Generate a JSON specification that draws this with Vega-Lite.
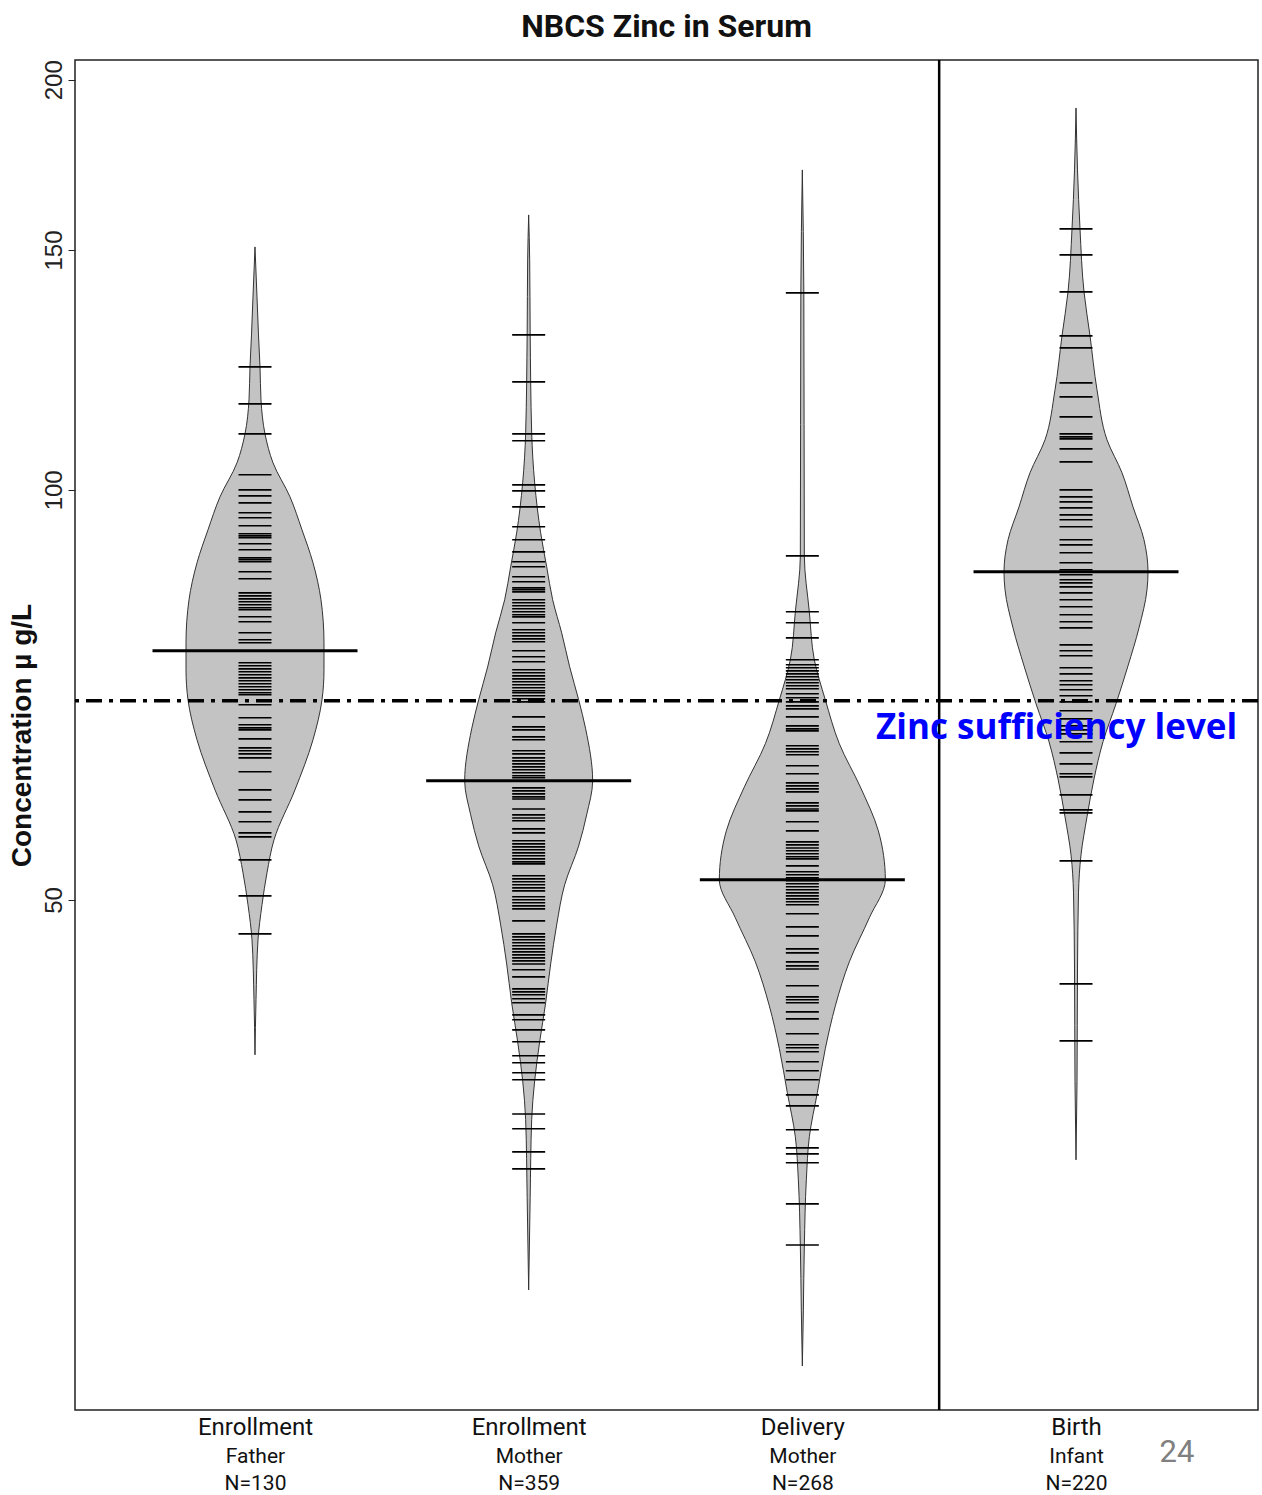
{
  "$schema": "https://vega.github.io/schema/vega-lite/v6.json",
  "width": 1183,
  "height": 1350,
  "autosize": {"type": "none"},
  "padding": {"left": 75, "top": 60, "right": 4, "bottom": 85},
  "background": "white",
  "title": {"text": "NBCS Zinc in Serum", "font": "Roboto", "fontSize": 32, "fontWeight": "bold", "color": "#111", "anchor": "middle", "offset": 15},
  "config": {
    "view": {"stroke": "#222", "strokeWidth": 1.5},
    "axis": {"grid": false},
    "axisY": {"tickSize": 7, "tickWidth": 1, "tickColor": "#222", "labelAngle": -90, "labelFont": "Liberation Sans", "labelFontSize": 24, "labelPadding": 2, "labelColor": "#222", "domain": false, "grid": false, "titleFont": "Liberation Sans", "titleFontSize": 28, "titleFontWeight": "bold", "titleColor": "#111", "titlePadding": 6}
  },
  "datasets": {
    "violin": [
      {"group": "Father", "pos": 1, "conc": 150.78, "density": 0},
      {"group": "Father", "pos": 1, "conc": 138.56, "density": 0.0073},
      {"group": "Father", "pos": 1, "conc": 129.94, "density": 0.0128},
      {"group": "Father", "pos": 1, "conc": 123.10, "density": 0.0183},
      {"group": "Father", "pos": 1, "conc": 116.43, "density": 0.0219},
      {"group": "Father", "pos": 1, "conc": 109.93, "density": 0.0365},
      {"group": "Father", "pos": 1, "conc": 104.67, "density": 0.0658},
      {"group": "Father", "pos": 1, "conc": 98.82, "density": 0.1279},
      {"group": "Father", "pos": 1, "conc": 93.47, "density": 0.1717},
      {"group": "Father", "pos": 1, "conc": 88.40, "density": 0.2119},
      {"group": "Father", "pos": 1, "conc": 83.04, "density": 0.2411},
      {"group": "Father", "pos": 1, "conc": 77.22, "density": 0.2521},
      {"group": "Father", "pos": 1, "conc": 73.77, "density": 0.2521},
      {"group": "Father", "pos": 1, "conc": 70.12, "density": 0.2448},
      {"group": "Father", "pos": 1, "conc": 65.54, "density": 0.2119},
      {"group": "Father", "pos": 1, "conc": 60.22, "density": 0.1461},
      {"group": "Father", "pos": 1, "conc": 55.34, "density": 0.0694},
      {"group": "Father", "pos": 1, "conc": 52.34, "density": 0.0438},
      {"group": "Father", "pos": 1, "conc": 49.59, "density": 0.0256},
      {"group": "Father", "pos": 1, "conc": 46.74, "density": 0.011},
      {"group": "Father", "pos": 1, "conc": 42.23, "density": 0.0037},
      {"group": "Father", "pos": 1, "conc": 38.48, "density": 0},
      {"group": "MotherE", "pos": 2, "conc": 159.16, "density": 0},
      {"group": "MotherE", "pos": 2, "conc": 147.51, "density": 0.0037},
      {"group": "MotherE", "pos": 2, "conc": 130.39, "density": 0.0055},
      {"group": "MotherE", "pos": 2, "conc": 110.12, "density": 0.011},
      {"group": "MotherE", "pos": 2, "conc": 101.19, "density": 0.0219},
      {"group": "MotherE", "pos": 2, "conc": 93.00, "density": 0.0438},
      {"group": "MotherE", "pos": 2, "conc": 87.80, "density": 0.0658},
      {"group": "MotherE", "pos": 2, "conc": 83.04, "density": 0.0877},
      {"group": "MotherE", "pos": 2, "conc": 78.53, "density": 0.1206},
      {"group": "MotherE", "pos": 2, "conc": 74.14, "density": 0.1498},
      {"group": "MotherE", "pos": 2, "conc": 70.12, "density": 0.1827},
      {"group": "MotherE", "pos": 2, "conc": 66.76, "density": 0.2083},
      {"group": "MotherE", "pos": 2, "conc": 61.15, "density": 0.2338},
      {"group": "MotherE", "pos": 2, "conc": 57.73, "density": 0.2119},
      {"group": "MotherE", "pos": 2, "conc": 54.78, "density": 0.1827},
      {"group": "MotherE", "pos": 2, "conc": 51.29, "density": 0.1315},
      {"group": "MotherE", "pos": 2, "conc": 47.93, "density": 0.1023},
      {"group": "MotherE", "pos": 2, "conc": 44.87, "density": 0.0804},
      {"group": "MotherE", "pos": 2, "conc": 42.02, "density": 0.0621},
      {"group": "MotherE", "pos": 2, "conc": 39.34, "density": 0.0402},
      {"group": "MotherE", "pos": 2, "conc": 36.83, "density": 0.0219},
      {"group": "MotherE", "pos": 2, "conc": 34.48, "density": 0.011},
      {"group": "MotherE", "pos": 2, "conc": 30.22, "density": 0.0055},
      {"group": "MotherE", "pos": 2, "conc": 25.86, "density": 0},
      {"group": "MotherD", "pos": 3, "conc": 171.74, "density": 0},
      {"group": "MotherD", "pos": 3, "conc": 139.51, "density": 0.0055},
      {"group": "MotherD", "pos": 3, "conc": 89.44, "density": 0.0073},
      {"group": "MotherD", "pos": 3, "conc": 81.37, "density": 0.0256},
      {"group": "MotherD", "pos": 3, "conc": 75.03, "density": 0.0438},
      {"group": "MotherD", "pos": 3, "conc": 70.12, "density": 0.084},
      {"group": "MotherD", "pos": 3, "conc": 65.10, "density": 0.1352},
      {"group": "MotherD", "pos": 3, "conc": 60.52, "density": 0.2119},
      {"group": "MotherD", "pos": 3, "conc": 56.19, "density": 0.2777},
      {"group": "MotherD", "pos": 3, "conc": 51.73, "density": 0.3033},
      {"group": "MotherD", "pos": 3, "conc": 48.51, "density": 0.2448},
      {"group": "MotherD", "pos": 3, "conc": 45.03, "density": 0.1717},
      {"group": "MotherD", "pos": 3, "conc": 41.80, "density": 0.1206},
      {"group": "MotherD", "pos": 3, "conc": 38.88, "density": 0.084},
      {"group": "MotherD", "pos": 3, "conc": 36.09, "density": 0.0548},
      {"group": "MotherD", "pos": 3, "conc": 33.50, "density": 0.0256},
      {"group": "MotherD", "pos": 3, "conc": 31.15, "density": 0.0146},
      {"group": "MotherD", "pos": 3, "conc": 27.86, "density": 0.0073},
      {"group": "MotherD", "pos": 3, "conc": 24.96, "density": 0.0037},
      {"group": "MotherD", "pos": 3, "conc": 22.74, "density": 0},
      {"group": "Infant", "pos": 4, "conc": 190.69, "density": 0},
      {"group": "Infant", "pos": 4, "conc": 171.74, "density": 0.0055},
      {"group": "Infant", "pos": 4, "conc": 155.44, "density": 0.0146},
      {"group": "Infant", "pos": 4, "conc": 139.75, "density": 0.0292},
      {"group": "Infant", "pos": 4, "conc": 129.72, "density": 0.0512},
      {"group": "Infant", "pos": 4, "conc": 118.42, "density": 0.0767},
      {"group": "Infant", "pos": 4, "conc": 108.82, "density": 0.1133},
      {"group": "Infant", "pos": 4, "conc": 102.92, "density": 0.1681},
      {"group": "Infant", "pos": 4, "conc": 97.16, "density": 0.2083},
      {"group": "Infant", "pos": 4, "conc": 91.90, "density": 0.2484},
      {"group": "Infant", "pos": 4, "conc": 87.06, "density": 0.2631},
      {"group": "Infant", "pos": 4, "conc": 84.45, "density": 0.2594},
      {"group": "Infant", "pos": 4, "conc": 79.19, "density": 0.2302},
      {"group": "Infant", "pos": 4, "conc": 74.27, "density": 0.19},
      {"group": "Infant", "pos": 4, "conc": 69.65, "density": 0.1461},
      {"group": "Infant", "pos": 4, "conc": 65.32, "density": 0.0986},
      {"group": "Infant", "pos": 4, "conc": 61.35, "density": 0.0658},
      {"group": "Infant", "pos": 4, "conc": 57.53, "density": 0.0402},
      {"group": "Infant", "pos": 4, "conc": 53.96, "density": 0.0183},
      {"group": "Infant", "pos": 4, "conc": 50.60, "density": 0.0091},
      {"group": "Infant", "pos": 4, "conc": 44.49, "density": 0.0055},
      {"group": "Infant", "pos": 4, "conc": 36.77, "density": 0.0037},
      {"group": "Infant", "pos": 4, "conc": 32.22, "density": 0}
    ],
    "beans": [
      {"pos": 1, "conc": 123.10}, {"pos": 1, "conc": 115.64}, {"pos": 1, "conc": 109.93}, {"pos": 1, "conc": 102.57}, {"pos": 1, "conc": 100.0}, {"pos": 1, "conc": 98.98}, {"pos": 1, "conc": 97.82}, {"pos": 1, "conc": 96.19}, {"pos": 1, "conc": 95.38}, {"pos": 1, "conc": 94.10}, {"pos": 1, "conc": 92.84}, {"pos": 1, "conc": 92.52}, {"pos": 1, "conc": 92.21}, {"pos": 1, "conc": 91.28}, {"pos": 1, "conc": 90.36}, {"pos": 1, "conc": 89.14}, {"pos": 1, "conc": 88.85}, {"pos": 1, "conc": 88.55}, {"pos": 1, "conc": 87.06}, {"pos": 1, "conc": 86.04}, {"pos": 1, "conc": 84.02}, {"pos": 1, "conc": 83.59}, {"pos": 1, "conc": 83.17}, {"pos": 1, "conc": 82.76}, {"pos": 1, "conc": 82.34}, {"pos": 1, "conc": 81.92}, {"pos": 1, "conc": 81.65}, {"pos": 1, "conc": 80.69}, {"pos": 1, "conc": 80.01}, {"pos": 1, "conc": 78.53}, {"pos": 1, "conc": 77.61}, {"pos": 1, "conc": 77.22}, {"pos": 1, "conc": 74.65}, {"pos": 1, "conc": 74.27}, {"pos": 1, "conc": 73.89}, {"pos": 1, "conc": 73.52}, {"pos": 1, "conc": 73.15}, {"pos": 1, "conc": 72.77}, {"pos": 1, "conc": 72.42}, {"pos": 1, "conc": 72.05}, {"pos": 1, "conc": 71.68}, {"pos": 1, "conc": 71.32}, {"pos": 1, "conc": 70.96}, {"pos": 1, "conc": 70.72}, {"pos": 1, "conc": 69.53}, {"pos": 1, "conc": 68.02}, {"pos": 1, "conc": 67.22}, {"pos": 1, "conc": 66.87}, {"pos": 1, "conc": 66.65}, {"pos": 1, "conc": 65.64}, {"pos": 1, "conc": 64.65}, {"pos": 1, "conc": 64.33}, {"pos": 1, "conc": 64.00}, {"pos": 1, "conc": 63.57}, {"pos": 1, "conc": 62.09}, {"pos": 1, "conc": 60.22}, {"pos": 1, "conc": 59.21}, {"pos": 1, "conc": 58.02}, {"pos": 1, "conc": 57.06}, {"pos": 1, "conc": 56.00}, {"pos": 1, "conc": 55.62}, {"pos": 1, "conc": 53.50}, {"pos": 1, "conc": 50.34}, {"pos": 1, "conc": 47.21},
      {"pos": 2, "conc": 129.94}, {"pos": 2, "conc": 120.02}, {"pos": 2, "conc": 109.93}, {"pos": 2, "conc": 108.64}, {"pos": 2, "conc": 100.85}, {"pos": 2, "conc": 99.83}, {"pos": 2, "conc": 97.16}, {"pos": 2, "conc": 93.94}, {"pos": 2, "conc": 91.90}, {"pos": 2, "conc": 90.05}, {"pos": 2, "conc": 88.55}, {"pos": 2, "conc": 87.80}, {"pos": 2, "conc": 86.33}, {"pos": 2, "conc": 85.60}, {"pos": 2, "conc": 84.73}, {"pos": 2, "conc": 84.45}, {"pos": 2, "conc": 84.16}, {"pos": 2, "conc": 83.04}, {"pos": 2, "conc": 82.62}, {"pos": 2, "conc": 82.20}, {"pos": 2, "conc": 81.78}, {"pos": 2, "conc": 81.37}, {"pos": 2, "conc": 80.96}, {"pos": 2, "conc": 80.68}, {"pos": 2, "conc": 79.87}, {"pos": 2, "conc": 78.93}, {"pos": 2, "conc": 78.53}, {"pos": 2, "conc": 78.13}, {"pos": 2, "conc": 77.73}, {"pos": 2, "conc": 77.35}, {"pos": 2, "conc": 76.18}, {"pos": 2, "conc": 75.41}, {"pos": 2, "conc": 74.78}, {"pos": 2, "conc": 73.77}, {"pos": 2, "conc": 73.40}, {"pos": 2, "conc": 73.02}, {"pos": 2, "conc": 72.65}, {"pos": 2, "conc": 72.29}, {"pos": 2, "conc": 71.93}, {"pos": 2, "conc": 71.56}, {"pos": 2, "conc": 71.20}, {"pos": 2, "conc": 70.96}, {"pos": 2, "conc": 70.60}, {"pos": 2, "conc": 70.24}, {"pos": 2, "conc": 69.88}, {"pos": 2, "conc": 68.13}, {"pos": 2, "conc": 66.99}, {"pos": 2, "conc": 66.65}, {"pos": 2, "conc": 65.86}, {"pos": 2, "conc": 65.54}, {"pos": 2, "conc": 64.33}, {"pos": 2, "conc": 64.00}, {"pos": 2, "conc": 63.57}, {"pos": 2, "conc": 63.25}, {"pos": 2, "conc": 62.93}, {"pos": 2, "conc": 62.61}, {"pos": 2, "conc": 62.30}, {"pos": 2, "conc": 61.98}, {"pos": 2, "conc": 61.67}, {"pos": 2, "conc": 61.46}, {"pos": 2, "conc": 60.42}, {"pos": 2, "conc": 60.12}, {"pos": 2, "conc": 59.81}, {"pos": 2, "conc": 59.51}, {"pos": 2, "conc": 59.30}, {"pos": 2, "conc": 58.31}, {"pos": 2, "conc": 57.73}, {"pos": 2, "conc": 57.43}, {"pos": 2, "conc": 57.15}, {"pos": 2, "conc": 56.38}, {"pos": 2, "conc": 56.00}, {"pos": 2, "conc": 55.25}, {"pos": 2, "conc": 54.97}, {"pos": 2, "conc": 54.69}, {"pos": 2, "conc": 54.42}, {"pos": 2, "conc": 54.14}, {"pos": 2, "conc": 53.87}, {"pos": 2, "conc": 53.59}, {"pos": 2, "conc": 53.32}, {"pos": 2, "conc": 53.14}, {"pos": 2, "conc": 52.08}, {"pos": 2, "conc": 51.81}, {"pos": 2, "conc": 51.56}, {"pos": 2, "conc": 51.29}, {"pos": 2, "conc": 51.03}, {"pos": 2, "conc": 50.77}, {"pos": 2, "conc": 50.26}, {"pos": 2, "conc": 50.01}, {"pos": 2, "conc": 49.76}, {"pos": 2, "conc": 49.50}, {"pos": 2, "conc": 49.25}, {"pos": 2, "conc": 48.26}, {"pos": 2, "conc": 47.21}, {"pos": 2, "conc": 46.97}, {"pos": 2, "conc": 46.74}, {"pos": 2, "conc": 46.50}, {"pos": 2, "conc": 46.27}, {"pos": 2, "conc": 46.03}, {"pos": 2, "conc": 45.79}, {"pos": 2, "conc": 45.56}, {"pos": 2, "conc": 45.33}, {"pos": 2, "conc": 45.10}, {"pos": 2, "conc": 44.87}, {"pos": 2, "conc": 44.43}, {"pos": 2, "conc": 43.90}, {"pos": 2, "conc": 43.02}, {"pos": 2, "conc": 42.80}, {"pos": 2, "conc": 42.59}, {"pos": 2, "conc": 42.30}, {"pos": 2, "conc": 42.02}, {"pos": 2, "conc": 41.17}, {"pos": 2, "conc": 40.83}, {"pos": 2, "conc": 40.14}, {"pos": 2, "conc": 39.34}, {"pos": 2, "conc": 38.42}, {"pos": 2, "conc": 37.97}, {"pos": 2, "conc": 37.33}, {"pos": 2, "conc": 36.89}, {"pos": 2, "conc": 34.82}, {"pos": 2, "conc": 33.96}, {"pos": 2, "conc": 32.66}, {"pos": 2, "conc": 31.73},
      {"pos": 3, "conc": 139.51}, {"pos": 3, "conc": 89.44}, {"pos": 3, "conc": 81.37}, {"pos": 3, "conc": 79.87}, {"pos": 3, "conc": 77.86}, {"pos": 3, "conc": 75.03}, {"pos": 3, "conc": 74.40}, {"pos": 3, "conc": 74.02}, {"pos": 3, "conc": 73.64}, {"pos": 3, "conc": 73.27}, {"pos": 3, "conc": 72.90}, {"pos": 3, "conc": 72.54}, {"pos": 3, "conc": 72.17}, {"pos": 3, "conc": 71.80}, {"pos": 3, "conc": 71.44}, {"pos": 3, "conc": 70.84}, {"pos": 3, "conc": 70.36}, {"pos": 3, "conc": 69.88}, {"pos": 3, "conc": 69.41}, {"pos": 3, "conc": 69.05}, {"pos": 3, "conc": 68.13}, {"pos": 3, "conc": 67.10}, {"pos": 3, "conc": 66.76}, {"pos": 3, "conc": 66.54}, {"pos": 3, "conc": 64.88}, {"pos": 3, "conc": 64.54}, {"pos": 3, "conc": 64.22}, {"pos": 3, "conc": 63.90}, {"pos": 3, "conc": 62.72}, {"pos": 3, "conc": 61.88}, {"pos": 3, "conc": 60.94}, {"pos": 3, "conc": 60.63}, {"pos": 3, "conc": 60.32}, {"pos": 3, "conc": 60.02}, {"pos": 3, "conc": 58.91}, {"pos": 3, "conc": 58.61}, {"pos": 3, "conc": 58.31}, {"pos": 3, "conc": 58.12}, {"pos": 3, "conc": 57.06}, {"pos": 3, "conc": 56.19}, {"pos": 3, "conc": 55.15}, {"pos": 3, "conc": 54.87}, {"pos": 3, "conc": 54.59}, {"pos": 3, "conc": 54.33}, {"pos": 3, "conc": 54.05}, {"pos": 3, "conc": 53.78}, {"pos": 3, "conc": 53.59}, {"pos": 3, "conc": 52.96}, {"pos": 3, "conc": 52.43}, {"pos": 3, "conc": 52.17}, {"pos": 3, "conc": 51.90}, {"pos": 3, "conc": 51.64}, {"pos": 3, "conc": 51.38}, {"pos": 3, "conc": 51.12}, {"pos": 3, "conc": 50.86}, {"pos": 3, "conc": 50.60}, {"pos": 3, "conc": 50.34}, {"pos": 3, "conc": 50.09}, {"pos": 3, "conc": 49.84}, {"pos": 3, "conc": 49.59}, {"pos": 3, "conc": 48.84}, {"pos": 3, "conc": 47.77}, {"pos": 3, "conc": 47.05}, {"pos": 3, "conc": 46.03}, {"pos": 3, "conc": 45.72}, {"pos": 3, "conc": 45.03}, {"pos": 3, "conc": 44.72}, {"pos": 3, "conc": 44.49}, {"pos": 3, "conc": 43.24}, {"pos": 3, "conc": 42.44}, {"pos": 3, "conc": 42.23}, {"pos": 3, "conc": 42.02}, {"pos": 3, "conc": 41.38}, {"pos": 3, "conc": 40.89}, {"pos": 3, "conc": 39.87}, {"pos": 3, "conc": 39.14}, {"pos": 3, "conc": 38.94}, {"pos": 3, "conc": 38.68}, {"pos": 3, "conc": 38.03}, {"pos": 3, "conc": 37.46}, {"pos": 3, "conc": 36.89}, {"pos": 3, "conc": 35.96}, {"pos": 3, "conc": 35.30}, {"pos": 3, "conc": 33.90}, {"pos": 3, "conc": 32.88}, {"pos": 3, "conc": 32.55}, {"pos": 3, "conc": 32.06}, {"pos": 3, "conc": 29.91}, {"pos": 3, "conc": 27.90},
      {"pos": 4, "conc": 155.44}, {"pos": 4, "conc": 148.76}, {"pos": 4, "conc": 139.75}, {"pos": 4, "conc": 129.72}, {"pos": 4, "conc": 127.12}, {"pos": 4, "conc": 119.82}, {"pos": 4, "conc": 117.02}, {"pos": 4, "conc": 113.13}, {"pos": 4, "conc": 109.93}, {"pos": 4, "conc": 109.37}, {"pos": 4, "conc": 109.00}, {"pos": 4, "conc": 107.17}, {"pos": 4, "conc": 104.84}, {"pos": 4, "conc": 100.0}, {"pos": 4, "conc": 98.82}, {"pos": 4, "conc": 97.99}, {"pos": 4, "conc": 96.99}, {"pos": 4, "conc": 95.86}, {"pos": 4, "conc": 95.06}, {"pos": 4, "conc": 93.94}, {"pos": 4, "conc": 91.90}, {"pos": 4, "conc": 91.12}, {"pos": 4, "conc": 89.90}, {"pos": 4, "conc": 88.40}, {"pos": 4, "conc": 87.36}, {"pos": 4, "conc": 86.62}, {"pos": 4, "conc": 85.89}, {"pos": 4, "conc": 85.45}, {"pos": 4, "conc": 84.87}, {"pos": 4, "conc": 84.02}, {"pos": 4, "conc": 83.04}, {"pos": 4, "conc": 82.06}, {"pos": 4, "conc": 80.96}, {"pos": 4, "conc": 80.01}, {"pos": 4, "conc": 79.19}, {"pos": 4, "conc": 76.95}, {"pos": 4, "conc": 76.18}, {"pos": 4, "conc": 75.54}, {"pos": 4, "conc": 74.02}, {"pos": 4, "conc": 73.27}, {"pos": 4, "conc": 72.42}, {"pos": 4, "conc": 71.93}, {"pos": 4, "conc": 71.32}, {"pos": 4, "conc": 70.60}, {"pos": 4, "conc": 69.88}, {"pos": 4, "conc": 68.83}, {"pos": 4, "conc": 67.90}, {"pos": 4, "conc": 67.10}, {"pos": 4, "conc": 66.65}, {"pos": 4, "conc": 66.20}, {"pos": 4, "conc": 65.32}, {"pos": 4, "conc": 64.11}, {"pos": 4, "conc": 62.93}, {"pos": 4, "conc": 61.88}, {"pos": 4, "conc": 61.56}, {"pos": 4, "conc": 59.71}, {"pos": 4, "conc": 58.22}, {"pos": 4, "conc": 57.92}, {"pos": 4, "conc": 53.41}, {"pos": 4, "conc": 43.38}, {"pos": 4, "conc": 39.40}
    ],
    "means": [
      {"pos": 1, "conc": 76.18},
      {"pos": 2, "conc": 61.15},
      {"pos": 3, "conc": 51.73},
      {"pos": 4, "conc": 87.06}
    ]
  },
  "layer": [
    {
      "data": {"name": "violin"},
      "transform": [
        {"calculate": "datum.pos - datum.density", "as": "lo"},
        {"calculate": "datum.pos + datum.density", "as": "hi"}
      ],
      "mark": {"type": "area", "orient": "horizontal", "fill": "#c3c3c3", "stroke": "#333", "strokeWidth": 1, "interpolate": "monotone", "opacity": 1},
      "encoding": {
        "y": {"field": "conc", "type": "quantitative", "title": "Concentration µ g/L", "scale": {"type": "log", "domain": [21.11, 206.8], "nice": false},
          "axis": {"values": [50, 100, 150, 200]}},
        "x": {"field": "lo", "type": "quantitative", "scale": {"domain": [0.3423, 4.665], "nice": false, "zero": false},
          "axis": {"orient": "bottom", "values": [1, 2, 3, 4], "labelExpr": "datum.value == 1 ? 'Enrollment' : datum.value == 2 ? 'Enrollment' : datum.value == 3 ? 'Delivery' : 'Birth'", "labelFont": "Roboto", "labelFontSize": 24, "labelColor": "#111", "ticks": false, "domain": false, "labelPadding": 5, "title": null, "grid": false}},
        "x2": {"field": "hi"},
        "detail": {"field": "group"}
      }
    },
    {
      "data": {"name": "beans"},
      "mark": {"type": "tick", "orient": "horizontal", "size": 33, "thickness": 1.6, "color": "#000", "opacity": 1},
      "encoding": {
        "x": {"field": "pos", "type": "quantitative", "axis": null},
        "y": {"field": "conc", "type": "quantitative", "title": "Concentration µ g/L"}
      }
    },
    {
      "data": {"name": "means"},
      "mark": {"type": "tick", "orient": "horizontal", "size": 205, "thickness": 3, "color": "#000", "opacity": 1},
      "encoding": {
        "x": {"field": "pos", "type": "quantitative",
          "axis": {"orient": "bottom", "values": [1, 2, 3, 4], "labelExpr": "datum.value == 1 ? ['Father', 'N=130'] : datum.value == 2 ? ['Mother', 'N=359'] : datum.value == 3 ? ['Mother', 'N=268'] : ['Infant', 'N=220']", "labelFont": "Roboto", "labelFontSize": 21, "labelLineHeight": 27, "labelColor": "#111", "ticks": false, "domain": false, "labelPadding": 35, "title": null, "grid": false}},
        "y": {"field": "conc", "type": "quantitative", "title": "Concentration µ g/L"}
      }
    },
    {
      "data": {"values": [{"level": "Zinc sufficiency level", "conc": 70}]},
      "mark": {"type": "rule", "strokeWidth": 3.5, "color": "#000", "strokeDash": [16, 7, 4, 7]},
      "encoding": {
        "y": {"field": "conc", "type": "quantitative", "title": "Concentration µ g/L"}
      }
    },
    {
      "data": {"values": [{"separator": 3.5}]},
      "mark": {"type": "rule", "strokeWidth": 2.5, "color": "#000"},
      "encoding": {
        "x": {"field": "separator", "type": "quantitative", "axis": null}
      }
    },
    {
      "data": {"values": [{"label": "Zinc sufficiency level", "pos": 3.269, "conc": 66.87}]},
      "mark": {"type": "text", "align": "left", "baseline": "middle", "font": "Open Sans", "fontWeight": "bold", "fontSize": 35, "color": "#0000ff"},
      "encoding": {
        "x": {"field": "pos", "type": "quantitative", "axis": null},
        "y": {"field": "conc", "type": "quantitative", "title": "Concentration µ g/L"},
        "text": {"field": "label"}
      }
    },
    {
      "data": {"values": [{"label": "24", "pos": 4.369, "conc": 19.63}]},
      "mark": {"type": "text", "align": "center", "baseline": "middle", "font": "Roboto", "fontSize": 31, "color": "#808080"},
      "encoding": {
        "x": {"field": "pos", "type": "quantitative", "axis": null},
        "y": {"field": "conc", "type": "quantitative", "title": "Concentration µ g/L"},
        "text": {"field": "label"}
      }
    }
  ],
  "resolve": {"axis": {"x": "independent"}}
}
